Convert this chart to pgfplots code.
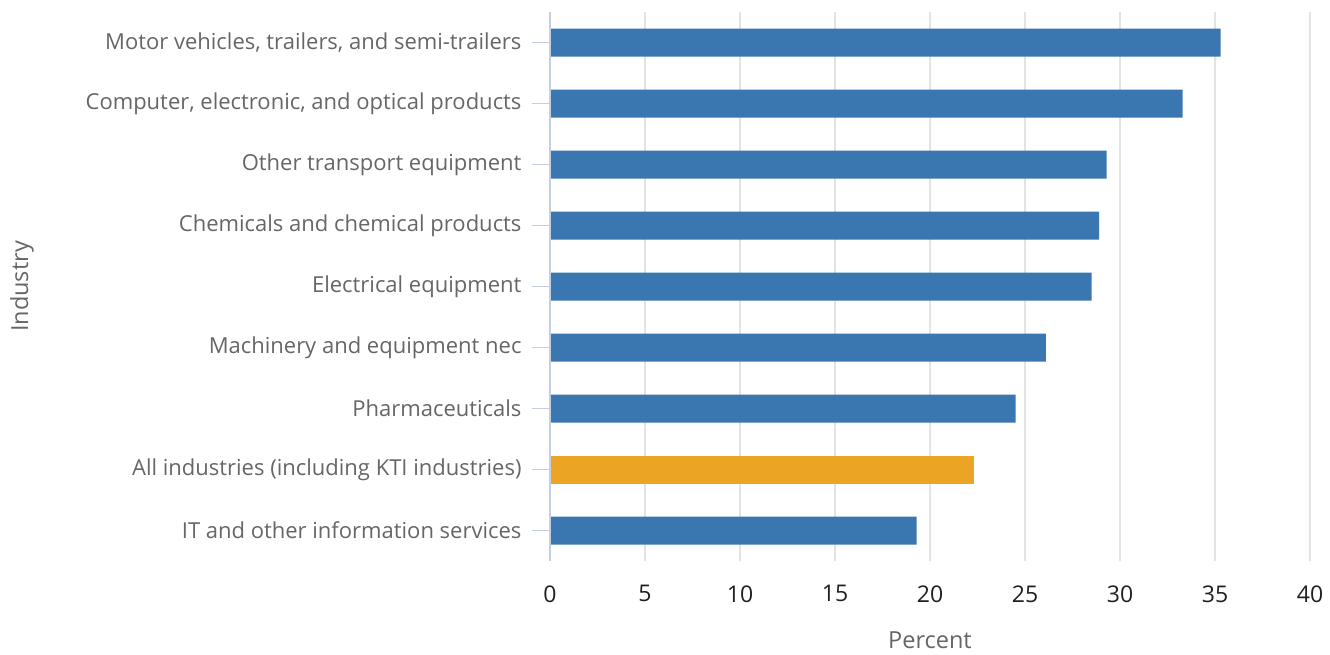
\documentclass[border=0pt]{standalone}
\usepackage{pgfplots}
\pgfplotsset{compat=1.18}
\usepackage{fontspec}
\setmainfont{Open Sans}
\definecolor{barblue}{HTML}{3A76AF}
\definecolor{barorange}{HTML}{EBA424}
\definecolor{axisc}{HTML}{C5CEE5}
\definecolor{gridc}{HTML}{E3E3E3}
\definecolor{labc}{HTML}{666666}
\begin{document}
\begin{tikzpicture}
\path[use as bounding box] (0,0) rectangle (1330pt,654pt);
\begin{axis}[
  at={(550pt,93pt)}, anchor=south west,
  scale only axis, width=760pt, height=549pt,
  xbar, bar width=28pt, bar shift=0pt,
  xmin=0, xmax=40, ymin=-0.5, ymax=8.5,
  xtick={0,5,...,40},
  ytick={0,...,8},
  ytick pos=left,
  yticklabels={{IT and other information services},{All industries (including KTI industries)},{Pharmaceuticals},{Machinery and equipment nec},{Electrical equipment},{Chemicals and chemical products},{Other transport equipment},{Computer, electronic, and optical products},{Motor vehicles, trailers, and semi-trailers}},
  /pgf/number format/assume math mode=true,
  axis line style={draw=none},
  xmajorgrids, grid style={gridc, line width=1.5pt},
  x tick style={draw=none},
  y tick style={axisc, line width=1.5pt},
  major tick length=18pt, tick align=outside,
  xticklabel style={font=\fontsize{23}{23}\selectfont, text=black!88, yshift=-3pt},
  yticklabel style={font=\fontsize{22}{22}\selectfont, text=labc, xshift=-7pt},
  xlabel={Percent}, ylabel={Industry},
  xlabel style={font=\fontsize{23.5}{23.5}\selectfont, text=labc, at={(axis description cs:0.5,-0.1440)}, anchor=center, inner sep=0pt},
  ylabel style={font=\fontsize{23.5}{23.5}\selectfont, text=labc, at={(axis description cs:-0.6947,0.5)}, anchor=center},
  clip=false,
]
\addplot[fill=barblue, draw=none] coordinates {(19.3,0) (0,1) (24.5,2) (26.1,3) (28.5,4) (28.9,5) (29.3,6) (33.3,7) (35.3,8)};
\addplot[fill=barorange, draw=none] coordinates {(22.3,1)};
\draw[axisc, line width=1.5pt] (axis cs:0,-0.5) -- (axis cs:0,8.5);
\end{axis}
\end{tikzpicture}
\end{document}
